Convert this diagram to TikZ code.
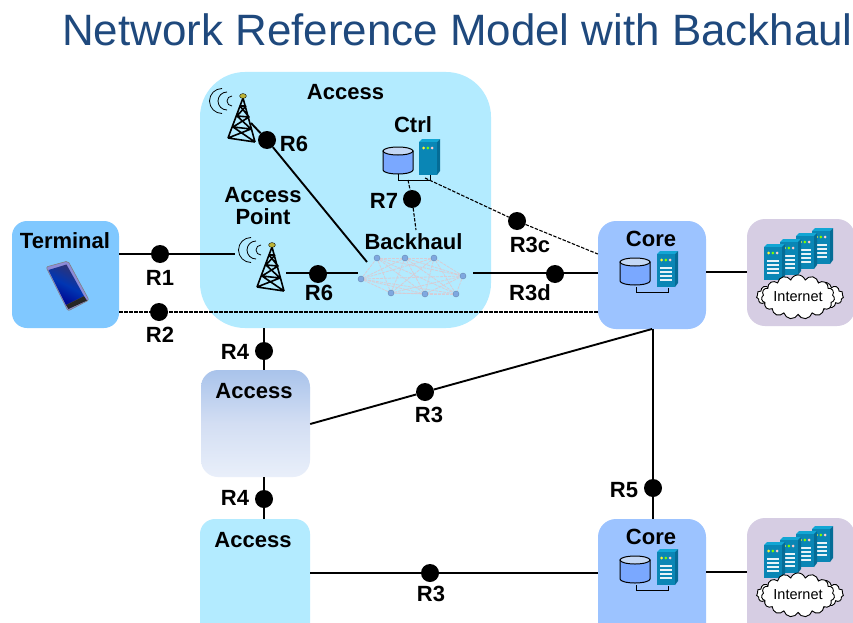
\documentclass[tikz,border=0pt]{standalone}
\usepackage{fontspec}
\setmainfont{Liberation Sans}
\usetikzlibrary{shapes.symbols,shapes.geometric}
\definecolor{acc}{HTML}{B3EBFF}
\definecolor{termc}{HTML}{80C8FF}
\definecolor{corec}{HTML}{9CC3FF}
\definecolor{inetc}{HTML}{D6CDE3}
\definecolor{titlec}{HTML}{1F497D}
\definecolor{srvf}{HTML}{0A86B5}
\definecolor{srvs}{HTML}{056C96}
\definecolor{srvt}{HTML}{12A6D4}
\definecolor{dbbody}{HTML}{7AA8FF}
\definecolor{dbtop}{HTML}{C5D8F5}
\definecolor{meshn}{HTML}{7FA8E0}
\definecolor{meshl}{HTML}{D8CCD4}
\definecolor{gradt}{HTML}{A9C3EB}
\definecolor{gradm}{HTML}{D3DEF3}
\definecolor{gradb}{HTML}{E9EFFA}
\pgfdeclarelayer{meshtop}
\pgfsetlayers{main,meshtop}
\tikzset{
  x=1pt,y=-1pt,
  box/.style={draw=none,rounded corners=#1,inner sep=0pt},
  lab/.style={font=\fontsize{22}{24}\selectfont\bfseries,inner sep=0pt,align=center,text=black},
  wire/.style={line width=1.9pt,black},
  dwire/.style={line width=1.1pt,black,dash pattern=on 3.5pt off 1.5pt},
  pdot/.style={circle,fill=black,minimum size=18pt,inner sep=0pt},
  mnode/.style={circle,fill=meshn,draw=meshn!80!black,line width=.4pt,minimum size=6pt,inner sep=0pt},
  mlink/.style={draw=meshl,line width=.8pt,dash pattern=on 3pt off 1pt},
  tower/.pic={
    \draw[black,line width=1.6pt,line join=round]
      (0,2)--(-15,42) (0,2)--(12,46) (-15,42)--(12,46)
      (-3,10)--(3,10) (-6,20)--(6,21) (-10,31)--(8,33)
      (-3,10)--(6,21)--(-10,31)--(12,46) (3,10)--(-6,20)--(8,33)--(-15,42);
    \draw[black,line width=.8pt] (-21,17.5) arc[start angle=90,end angle=270,radius=12.5]
      (-16,14) arc[start angle=90,end angle=270,radius=9]
      (-11,10) arc[start angle=90,end angle=270,radius=5];
    \fill[yellow!70!black,draw=black,line width=.4pt] (0,0) ellipse[x radius=3.4,y radius=2.4];
  },
  srv/.pic={
    \fill[srvt] (0,3)--(3,0)--(21,0)--(18,3)--cycle;
    \fill[srvs] (18,3)--(21,0)--(21,32)--(18,36)--cycle;
    \fill[srvf] (0,3) rectangle (18,36);
    \fill[yellow!80] (4.5,9) circle[radius=1.5];
    \fill[green!50!yellow] (8.8,9) circle[radius=1.5];
    \fill[red!20] (13,9) circle[radius=1.5];
  },
  srvln/.pic={
    \pic {srv};
    \foreach \yy in {16,20,24,28}{\fill[white!90!srvf] (3,\yy) rectangle (15,\yy+1.6);}
  },
  dbase/.pic={
    \draw[black,line width=1pt,fill=dbbody] (-15,4)--(-15,23) arc[x radius=15,y radius=4,start angle=180,end angle=0]--(15,4)--cycle;
    \draw[black,line width=1pt,fill=dbtop] (0,4) ellipse[x radius=15,y radius=4];
  },
  farm/.pic={
    \pic at (48,-16) {srvln};
    \pic at (32,-11) {srvln};
    \pic at (16,-5) {srvln};
    \pic at (0,0) {srvln};
  },
  puff/.style={cloud,cloud puffs=#1,cloud puff arc=140,aspect=2,draw=black,fill=white,line width=.9pt,inner sep=0pt},
}
\begin{document}
\begin{tikzpicture}
\useasboundingbox (0,0) rectangle (853,623);
\clip (0,0) rectangle (853,623);
\fill[white] (0,0) rectangle (853,623);

\node[font=\fontsize{43.9}{48}\selectfont,text=titlec,inner sep=0pt,anchor=center] (title) at (457.5,30) {Network Reference Model with Backhaul};

% boxes
\node[box=45pt,fill=acc,minimum width=291pt,minimum height=256pt] (access1) at (345.5,200) {};
\node[box=15pt,fill=termc,minimum width=107pt,minimum height=107pt] (terminal) at (65.5,274.5) {};
\node[box=18pt,fill=corec,minimum width=108pt,minimum height=108pt] (core1) at (652,275) {};
\node[box=18pt,fill=inetc,minimum width=108pt,minimum height=107pt] (inet1) at (801,272.5) {};
\node[box=17pt,top color=gradt,bottom color=gradb,middle color=gradm,minimum width=109pt,minimum height=107pt] (access2) at (255.5,423.5) {};
\node[box=15pt,fill=acc,minimum width=110pt,minimum height=135pt] (access3) at (255,586.5) {};
\node[box=18pt,fill=corec,minimum width=108pt,minimum height=135pt] (core2) at (652,586.5) {};
\node[box=18pt,fill=inetc,minimum width=108pt,minimum height=135pt] (inet2) at (801,585.5) {};

% anchors for icons
\coordinate (tow1) at (243,96);
\coordinate (ap) at (272,245);
\coordinate (apin) at (235,254);
\coordinate (apout) at (286,273);
\coordinate (tow1out) at (251,123);
\coordinate (ctrlbus) at (425,178);
\coordinate (ctrlup) at (408,180);
\coordinate (bhtop) at (416,230);
\coordinate (bhleft) at (367,262);
\coordinate (bhwest) at (358,273);
\coordinate (bheast) at (473,273);

% dots
\node[pdot] (r1) at (160,254) {};
\node[pdot] (r2) at (159,312) {};
\node[pdot] (r6a) at (267,140) {};
\node[pdot] (r6b) at (318,274) {};
\node[pdot] (r7) at (412,199) {};
\node[pdot] (r3c) at (517,221) {};
\node[pdot] (r3d) at (555,274) {};
\node[pdot] (r4a) at (264,351) {};
\node[pdot] (r4b) at (264,499) {};
\node[pdot] (r3a) at (425,392) {};
\node[pdot] (r3b) at (430,573) {};
\node[pdot] (r5) at (653,488) {};

% connectors
\draw[wire] (terminal.east |- r1) -- (r1) -- (apin |- r1);
\draw[dwire] (terminal.east |- r2) -- (core1.west |- r2);
\draw[wire] (tow1out) -- (r6a) -- (bhleft);
\draw[wire] (apout) -- (bhwest);
\draw[dwire] (ctrlup) -- (r7) -- (bhtop);
\draw[dwire] (ctrlbus) -- (r3c) -- (core1.west |- 0,254);
\draw[wire] (bheast) -- (core1.west |- bheast);
\draw[wire] (r4a |- access1.south) -- (r4a) -- (r4a |- access2.north);
\draw[wire] (r4b |- access2.south) -- (r4b) -- (r4b |- access3.north);
\draw[wire] (access2.east |- 0,424) -- (r3a) -- (652,329);
\draw[wire] (access3.east |- r3b) -- (core2.west |- r3b);
\draw[wire] (r5 |- core1.south) -- (r5 |- core2.north);
\draw[wire] (core1.east |- 0,272) -- (inet1.west |- 0,272);
\draw[wire] (core2.east |- 0,572) -- (inet2.west |- 0,572);

% mesh
\begin{pgfonlayer}{meshtop}
\node[mnode] (m1) at (377,258) {};
\node[mnode] (m2) at (405,258) {};
\node[mnode] (m3) at (434,258) {};
\node[mnode] (m4) at (361,279) {};
\node[mnode] (m5) at (463,276) {};
\node[mnode] (m6) at (391,293) {};
\node[mnode] (m7) at (425,294) {};
\node[mnode] (m8) at (456,294) {};
\end{pgfonlayer}
\foreach \a/\b in {1/2,2/3,3/5,5/8,8/7,7/6,6/4,4/1,1/6,1/7,1/5,1/8,2/4,2/6,2/7,2/8,2/5,3/4,3/6,3/7,3/8,4/5,4/7,4/8,6/5,6/8,7/5}{
  \draw[mlink] (m\a) -- (m\b);}

% icons
\pic at (tow1) {tower};
\pic at (ap) {tower};

\pic at (398,147) {dbase};
\pic at (419,139) {srv};
\draw[black,line width=1pt] (398,174) |- (430,180) -- (430,175);

\foreach \yo in {0,298}{
  \begin{scope}[yshift=-\yo pt]
  \pic at (635,258) {dbase};
  \pic at (657,251) {srvln};
  \draw[black,line width=1pt] (636,287) |- (668,292) -- (668,288);
  \end{scope}
}

% phone
\filldraw[draw=black!50,fill=gray!50!blue!60!white,line width=.6pt,rounded corners=2pt] (46,267)--(68,261)--(89,300)--(68,311)--cycle;
\shade[top color=black!60!blue!60!gray,bottom color=blue!55!black,middle color=blue!70!cyan!70!black,shading angle=-28] (48.5,270)--(66.5,264.5)--(84,296)--(66,305)--cycle;
\fill[black!85] (66,305)--(84,296)--(87,300.5)--(68.5,309)--cycle;

% internet
\foreach \yo/\nm in {0/a,298/b}{
  \begin{scope}[yshift=-\yo pt]
  \pic at (764,244) {farm};
  \node[puff=19,minimum width=87pt,minimum height=34pt] (cb\nm) at (800,296) {};
  \node[puff=15,minimum width=72pt,minimum height=44pt,font=\fontsize{14.5}{16}\selectfont] (cf\nm) at (798,297) {Internet};
  \end{scope}
}

% labels
\node[lab] (t1) at (345.5,92.5) {Access};
\node[lab] (t2) at (413,125) {Ctrl};
\node[lab,text width=100pt,font=\fontsize{22}{22}\selectfont\bfseries] (t3) at (263,206) {Access\\Point};
\node[lab] (t4) at (413.5,242) {Backhaul};
\node[lab] (t5) at (65,241) {Terminal};
\node[lab] (t6) at (651,239) {Core};
\node[lab] (t7) at (254,391) {Access};
\node[lab] (t8) at (253,540) {Access};
\node[lab] (t9) at (651,537) {Core};
\node[lab] (l1) at (160,278) {R1};
\node[lab] (l2) at (160,335) {R2};
\node[lab] (l3) at (294,144) {R6};
\node[lab] (l4) at (319,293) {R6};
\node[lab] (l5) at (384,201) {R7};
\node[lab] (l6) at (530,245) {R3c};
\node[lab] (l7) at (530,293) {R3d};
\node[lab] (l8) at (235,352) {R4};
\node[lab] (l9) at (235,498) {R4};
\node[lab] (l10) at (429,415) {R3};
\node[lab] (l11) at (431,594) {R3};
\node[lab] (l12) at (624,490) {R5};
\end{tikzpicture}
\end{document}
